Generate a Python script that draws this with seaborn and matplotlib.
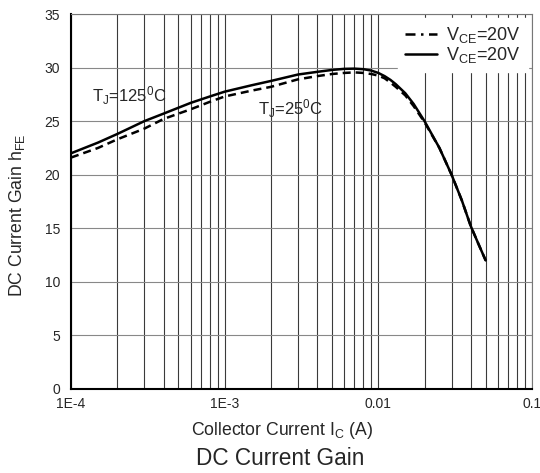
import matplotlib
matplotlib.use("Agg")
import matplotlib.pyplot as plt
import seaborn as sns
import numpy as np
import pandas as pd
from matplotlib.lines import Line2D
from matplotlib.ticker import LogLocator, FixedLocator, FixedFormatter, NullFormatter

# Data
ic_solid = [1e-4, 1.5e-4, 2e-4, 3e-4, 4e-4, 5e-4, 6e-4, 8e-4, 1e-3, 1.5e-3, 2e-3,
            3e-3, 4e-3, 5e-3, 6e-3, 7e-3, 8e-3, 9e-3, 0.01, 0.011, 0.012, 0.013,
            0.015, 0.017, 0.02, 0.025, 0.03, 0.035, 0.04, 0.045, 0.05]
hfe_solid = [22.0, 23.0, 23.8, 25.0, 25.7, 26.25, 26.7, 27.3, 27.75, 28.35, 28.75,
             29.35, 29.6, 29.78, 29.88, 29.9, 29.85, 29.72, 29.5, 29.2, 28.85, 28.45,
             27.6, 26.6, 25.0, 22.5, 20.0, 17.6, 15.2, 13.5, 12.0]
ic_dashed = [1e-4, 1.5e-4, 2e-4, 3e-4, 4e-4, 5e-4, 6e-4, 8e-4, 1e-3, 1.5e-3, 2e-3,
             3e-3, 4e-3, 5e-3, 6e-3, 7e-3, 8e-3, 9e-3, 0.01, 0.011, 0.012, 0.013,
             0.015, 0.017, 0.02, 0.025, 0.03, 0.035, 0.04, 0.045, 0.05]
hfe_dashed = [21.6, 22.5, 23.3, 24.3, 25.2, 25.7, 26.1, 26.8, 27.3, 27.85, 28.2,
              28.9, 29.2, 29.4, 29.5, 29.55, 29.5, 29.4, 29.25, 29.0, 28.6, 28.2,
              27.4, 26.4, 24.9, 22.5, 20.0, 17.6, 15.2, 13.5, 12.0]
xtick_vals = [1e-4, 1e-3, 1e-2, 1e-1]
xtick_labels = ["1E-4", "1E-3", "0.01", "0.1"]
ytick_vals = [0, 5, 10, 15, 20, 25, 30, 35]

sns.set_style("white")
plt.rcParams['font.family'] = ['Liberation Sans', 'DejaVu Sans']
plt.rcParams['mathtext.fontset'] = 'custom'
plt.rcParams['mathtext.rm'] = 'Liberation Sans'
plt.rcParams['mathtext.it'] = 'Liberation Sans'

fig = plt.figure(figsize=(5.4, 4.73), dpi=100)
ax = fig.add_axes([0.1315, 0.1776, 0.8535, 0.7928])

df_d = pd.DataFrame({"ic": ic_dashed, "hfe": hfe_dashed})
df_s = pd.DataFrame({"ic": ic_solid, "hfe": hfe_solid})
sns.lineplot(data=df_d, x="ic", y="hfe", ax=ax, color="black", lw=1.8,
             linestyle=(0, (3.2, 2.0)), zorder=3)
sns.lineplot(data=df_s, x="ic", y="hfe", ax=ax, color="black", lw=1.8, zorder=4)

ax.set_xscale("log")
ax.set_xlim(1e-4, 1e-1)
ax.set_ylim(0, 35)
ax.xaxis.set_major_locator(FixedLocator(xtick_vals))
ax.xaxis.set_major_formatter(FixedFormatter(xtick_labels))
ax.xaxis.set_minor_locator(LogLocator(base=10, subs=np.arange(2, 10)))
ax.xaxis.set_minor_formatter(NullFormatter())
ax.set_yticks(ytick_vals)

ax.grid(True, which="both", axis="x", color="#3a3a3a", lw=0.8, zorder=1)
ax.grid(True, which="major", axis="y", color="#888888", lw=0.8, zorder=1)
ax.set_axisbelow(True)
ax.tick_params(axis="both", which="both", length=0, labelsize=10)
ax.tick_params(axis="y", pad=8)
ax.tick_params(axis="x", pad=5.5)

for s in ["left", "bottom"]:
    ax.spines[s].set_color("black")
    ax.spines[s].set_linewidth(1.5)
for s in ["top", "right"]:
    ax.spines[s].set_color("#777777")
    ax.spines[s].set_linewidth(0.8)

ax.set_xlabel(r"Collector Current I$_\mathregular{C}$ (A)", fontsize=12.7)
ax.xaxis.set_label_coords(0.458, -0.112)
ax.xaxis.label.set_va("center")
ax.set_ylabel(r"DC Current Gain h$_\mathregular{FE}$", fontsize=12.7)
ax.yaxis.set_label_coords(-0.117, 0.464)
ax.yaxis.label.set_va("center")
fig.text(0.5185, 0.0317, "DC Current Gain", fontsize=16.3, ha="center", va="center")

ax.text(1.36e-4, 26.8, r"T$_\mathregular{J}$=125$^\mathregular{0}$C", fontsize=12, zorder=5)
ax.text(1.65e-3, 25.6, r"T$_\mathregular{J}$=25$^\mathregular{0}$C", fontsize=12, zorder=5)

handles = [Line2D([], [], color="black", lw=1.8, linestyle=(0, (4, 2.2, 1, 2.2))),
           Line2D([], [], color="black", lw=1.8)]
leg = ax.legend(handles, [r"V$_\mathregular{CE}$=20V", r"V$_\mathregular{CE}$=20V"],
                loc="upper right", fontsize=13, frameon=True, fancybox=False,
                handlelength=1.8, handletextpad=0.5, labelspacing=0.0,
                borderpad=0.4, borderaxespad=0.2)
leg.get_frame().set_edgecolor("white")
leg.get_frame().set_facecolor("white")
leg.get_frame().set_alpha(1)
leg.set_zorder(6)

fig.savefig("out.png", dpi=100)
